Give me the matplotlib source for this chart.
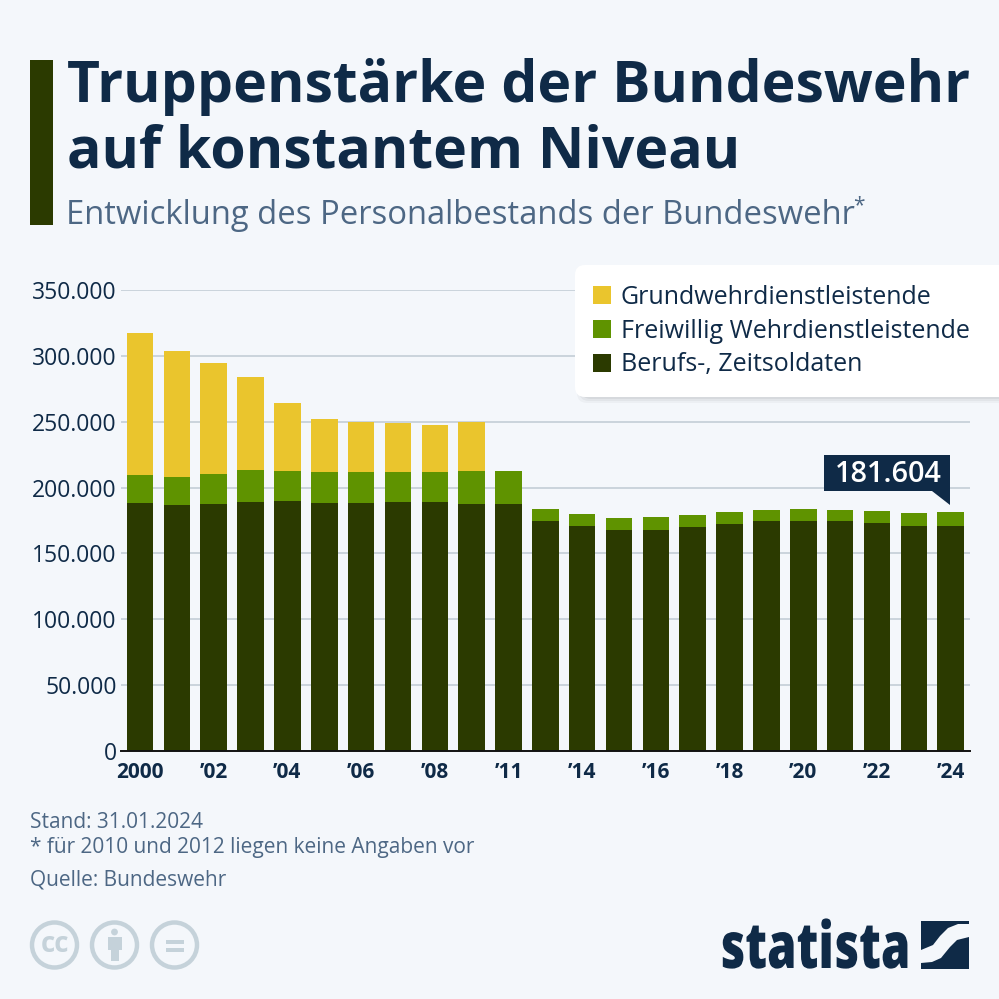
import matplotlib
matplotlib.use("Agg")
import matplotlib.pyplot as plt
from matplotlib.patches import Circle, FancyBboxPatch, Polygon, Rectangle
from matplotlib.patheffects import AbstractPathEffect
from matplotlib.ticker import FuncFormatter
from matplotlib.transforms import Affine2D

# values in thousands
years = ["2000", "2001", "2002", "2003", "2004", "2005", "2006", "2007", "2008", "2009", "2011",
         "2013", "2014", "2015", "2016", "2017", "2018", "2019", "2020", "2021", "2022", "2023", "2024"]
berufs = [188.0, 186.8, 187.5, 189.4, 190.0, 188.3, 188.3, 188.8, 188.8, 187.5, 187.5,
          175.0, 170.6, 168.0, 168.0, 170.0, 172.6, 174.9, 175.0, 174.6, 173.1, 171.0, 170.6]
freiwillig = [21.6, 21.5, 23.1, 24.3, 22.8, 23.5, 23.5, 22.7, 23.0, 25.1, 25.1,
              8.8, 9.4, 8.7, 9.4, 9.2, 8.6, 8.3, 8.4, 8.6, 9.3, 10.0, 11.0]
grundwehr = [107.4, 95.7, 84.0, 70.0, 51.2, 40.2, 38.0, 37.3, 35.7, 37.2, 0,
             0, 0, 0, 0, 0, 0, 0, 0, 0, 0, 0, 0]
tick_labels = ["2000", "’02", "’04", "’06", "’08", "’11", "’14", "’16", "’18", "’20", "’22", "’24"]
tick_pos = [0, 2, 4, 6, 8, 10, 12, 14, 16, 18, 20, 22]

BG = "#f4f7fb"
NAVY = "#0f2a47"
SLATE = "#4d6784"
YELLOW = "#eac52d"
GREEN = "#5f9300"
DARK = "#2b3a00"
GREY = "#c3ced6"
FONT = "Open Sans"

plt.rcParams["font.family"] = FONT


class NarrowText(AbstractPathEffect):
    """Squeeze a text horizontally, the logo font is condensed."""

    def __init__(self, sx):
        super().__init__()
        self.sx = sx

    def draw_path(self, renderer, gc, tpath, affine, rgbFace=None):
        renderer.draw_path(gc, tpath, Affine2D().scale(self.sx, 1) + affine, rgbFace)


fig = plt.figure(figsize=(9.99, 9.99), dpi=100, facecolor=BG)

# chart area
ax = fig.add_axes([121 / 999, 1 - 751 / 999, 849 / 999, 461 / 999], facecolor="none")
x = list(range(len(years)))
ax.bar(x, berufs, width=0.72, color=DARK, zorder=3)
ax.bar(x, freiwillig, width=0.72, bottom=berufs, color=GREEN, zorder=3)
tops = [a + b for a, b in zip(berufs, freiwillig)]
ax.bar(x, grundwehr, width=0.72, bottom=tops, color=YELLOW, zorder=3)
ax.set_xlim(-19 / 36.85, 22 + 19.3 / 36.85)
ax.set_ylim(0, 350)
ax.set_yticks(range(0, 351, 50))
ax.yaxis.set_major_formatter(FuncFormatter(lambda v, p: "0" if v == 0 else f"{int(v)}.000"))
ax.set_xticks(tick_pos)
ax.set_xticklabels(tick_labels, fontweight="bold", fontsize=15, color=NAVY)
ax.tick_params(axis="y", length=0, labelsize=16.5, labelcolor=NAVY, pad=3)
ax.tick_params(axis="x", length=0, pad=8)
ax.grid(axis="y", color=GREY, lw=1.2, zorder=0)
ax.set_axisbelow(True)
for side in ["top", "right", "left"]:
    ax.spines[side].set_visible(False)
ax.spines["bottom"].set_color("#111111")
ax.spines["bottom"].set_linewidth(1.4)
ax.spines["bottom"].set_zorder(5)

# overlay in pixel coordinates for title, legend, footer
ov = fig.add_axes([0, 0, 1, 1], facecolor="none", zorder=10)
ov.set_xlim(0, 999)
ov.set_ylim(999, 0)
ov.axis("off")

ov.add_patch(Rectangle((30, 60), 23, 165, color=DARK, lw=0))
ov.text(67, 87, "Truppenstärke der Bundeswehr", fontsize=41.1, fontweight="bold", color=NAVY, va="center")
ov.text(67, 153, "auf konstantem Niveau", fontsize=41.1, fontweight="bold", color=NAVY, va="center")
ov.text(66, 216, "Entwicklung des Personalbestands der Bundeswehr", fontsize=23.6, color=SLATE, va="center")
ov.text(853, 206, "*", fontsize=15, color=SLATE, va="center")

# legend box, runs off the right edge
for off, a in [(6, 0.03), (4, 0.04), (2, 0.05)]:
    ov.add_patch(FancyBboxPatch((575 - off + 8, 265 - off + 8), 440 + 2 * off, 132 + 2 * off - 8,
                                boxstyle="round,pad=0,rounding_size=10", fc="#000000", ec="none", alpha=a))
ov.add_patch(FancyBboxPatch((575, 265), 440, 132, boxstyle="round,pad=0,rounding_size=10", fc="white", ec="none"))
legend_items = [("Grundwehrdienstleistende", YELLOW, 295), ("Freiwillig Wehrdienstleistende", GREEN, 329),
                ("Berufs-, Zeitsoldaten", DARK, 363)]
for name, col, y in legend_items:
    ov.add_patch(Rectangle((593, y - 9), 18, 18, color=col, lw=0))
    ov.text(621, y + 2, name, fontsize=18, color=NAVY, va="center")

# callout
ov.add_patch(Polygon([(824, 455), (950, 455), (950, 505), (932, 491), (824, 491)], color=NAVY, lw=0))
ov.text(888, 475, "181.604", fontsize=20.8, fontweight=600, color="white", ha="center", va="center")

# footer
ov.text(30, 823, "Stand: 31.01.2024", fontsize=15.05, color=SLATE, va="center")
ov.text(30, 848, "* für 2010 und 2012 liegen keine Angaben vor", fontsize=15.05, color=SLATE, va="center")
ov.text(30, 880, "Quelle: Bundeswehr", fontsize=15.05, color=SLATE, va="center")

# licence icons
ICON = "#c5d2da"
for cx in [54.5, 114.5, 174.5]:
    ov.add_patch(Circle((cx, 945), 22.5, fc="none", ec=ICON, lw=3.2))
ov.text(54.5, 944, "cc", fontsize=20, fontweight="bold", color=ICON, ha="center", va="center")
ov.add_patch(Circle((114.5, 932), 3.4, color=ICON, lw=0))
ov.add_patch(Rectangle((107.5, 937), 14, 13, color=ICON, lw=0))
ov.add_patch(Rectangle((110.5, 950), 8, 11, color=ICON, lw=0))
ov.add_patch(Rectangle((165.7, 940), 18.3, 4, color=ICON, lw=0))
ov.add_patch(Rectangle((165.7, 947.7), 18.3, 4, color=ICON, lw=0))

# statista logo
logo = ov.text(720, 968, "statista", fontsize=46, fontweight=800, color=NAVY, ha="left", va="baseline",
               family="Open Sans")
logo.set_path_effects([NarrowText(0.742)])
ov.add_patch(Polygon([(921, 921), (969, 921), (969, 924), (958, 924), (948, 928), (940, 936), (933, 945), (921, 950)],
                     color=NAVY, lw=0))
ov.add_patch(Polygon([(969, 937), (969, 969), (921, 969), (921, 963), (932, 962), (941, 958), (950, 947), (957, 940)],
                     color=NAVY, lw=0))

fig.savefig("out.png", dpi=100, facecolor=BG)
